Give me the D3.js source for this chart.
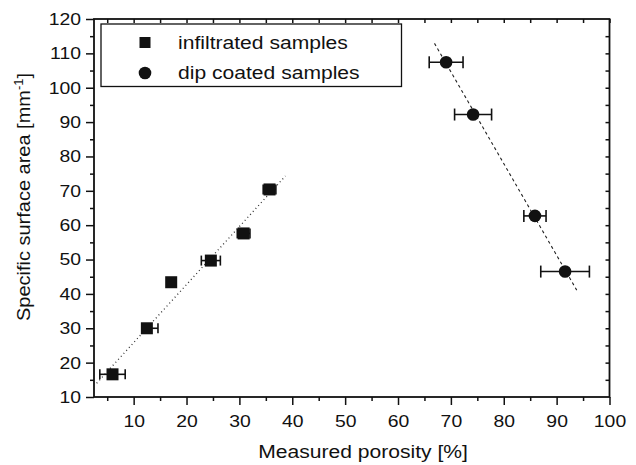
<!DOCTYPE html>
<html>
<head>
<meta charset="utf-8">
<script src="https://cdn.jsdelivr.net/npm/d3@7"></script>
<style>
  body { margin: 0; background: #fff; }
  svg { display: block; font-family: "Liberation Sans", Arial, sans-serif; }
</style>
</head>
<body>
<svg id="chart" width="636" height="465"></svg>
<script>
// infiltrated samples (squares)
const infX = [6.0, 12.5, 17.1, 24.6, 30.8, 35.7];
const infY = [16.6, 30.0, 43.4, 49.7, 57.6, 70.4];
const infErrLo = [2.4, 0.9, 0.8, 1.8, 1.2, 1.2];
const infErrHi = [2.4, 2.1, 0.8, 1.8, 1.2, 1.2];

// dip coated samples (circles)
const dipX = [69.1, 74.2, 85.9, 91.6];
const dipY = [107.4, 92.2, 62.7, 46.5];
const dipErr = [3.2, 3.5, 2.1, 4.6];

// linear fit lines (end points)
const infFitX = [3.0, 38.7];
const infFitY = [14.0, 74.3];
const dipFitX = [66.9, 93.8];
const dipFitY = [112.9, 41.1];

const xTicks = [10, 20, 30, 40, 50, 60, 70, 80, 90, 100];
const yTicks = [10, 20, 30, 40, 50, 60, 70, 80, 90, 100, 110, 120];
const legendLabels = ["infiltrated samples", "dip coated samples"];

const xTitle = "Measured porosity [%]";
const yTitle = "Specific surface area [mm";

const pLeft = 94, pRight = 609.5, pTop = 19, pBottom = 397;
const stretch = 1.14;   // the original font is a bit wider than Arial

const svg = d3.select("#chart");

const xScale = d3.scaleLinear().domain([2.5, 100]).range([pLeft, pRight]);
const yScale = d3.scaleLinear().domain([10, 120]).range([pBottom, pTop]);

// widen text around its anchor point
function widen(sel) {
    sel.each(function () {
        const t = d3.select(this);
        const x = +t.attr("x") || 0;
        const y = +t.attr("y") || 0;
        t.attr("x", 0).attr("y", 0)
         .attr("transform", `translate(${x},${y}) scale(${stretch},1)`);
    });
}

function styleAxis(g) {
    g.select(".domain").remove();
    g.selectAll("line").attr("stroke", "#111").attr("stroke-width", 1.5);
    g.selectAll("text").attr("fill", "#111").style("font-size", "17px");
}

const minorX = d3.range(5, 100, 10);
const minorY = d3.range(15, 120, 10);
const allX = d3.range(5, 101, 5);
const allY = d3.range(15, 120, 5);

// bottom: major + minor outward
svg.append("g").attr("transform", `translate(0,${pBottom})`)
    .call(d3.axisBottom(xScale).tickValues(xTicks).tickSize(8).tickPadding(10).tickFormat(d3.format("d")))
    .call(styleAxis)
    .call(g => widen(g.selectAll("text")));
svg.append("g").attr("transform", `translate(0,${pBottom})`)
    .call(d3.axisBottom(xScale).tickValues(minorX).tickSize(4).tickFormat(""))
    .call(styleAxis);

// left: major + minor outward
svg.append("g").attr("transform", `translate(${pLeft},0)`)
    .call(d3.axisLeft(yScale).tickValues(yTicks).tickSize(8).tickPadding(5).tickFormat(d3.format("d")))
    .call(styleAxis)
    .call(g => widen(g.selectAll("text")));
svg.append("g").attr("transform", `translate(${pLeft},0)`)
    .call(d3.axisLeft(yScale).tickValues(minorY).tickSize(4).tickFormat(""))
    .call(styleAxis);

// top and right: small inward ticks
svg.append("g").attr("transform", `translate(0,${pTop})`)
    .call(d3.axisBottom(xScale).tickValues(allX).tickSize(4).tickFormat(""))
    .call(styleAxis);
svg.append("g").attr("transform", `translate(${pRight},0)`)
    .call(d3.axisLeft(yScale).tickValues(allY).tickSize(4).tickFormat(""))
    .call(styleAxis);

// frame
svg.append("rect")
    .attr("x", pLeft).attr("y", pTop)
    .attr("width", pRight - pLeft).attr("height", pBottom - pTop)
    .attr("fill", "none").attr("stroke", "#111").attr("stroke-width", 1.8);

// fit lines
const line = d3.line().x(d => xScale(d[0])).y(d => yScale(d[1]));
svg.append("path")
    .attr("d", line(d3.zip(infFitX, infFitY)))
    .attr("fill", "none").attr("stroke", "#333").attr("stroke-width", 1.3)
    .attr("stroke-dasharray", "1,3");
svg.append("path")
    .attr("d", line(d3.zip(dipFitX, dipFitY)))
    .attr("fill", "none").attr("stroke", "#222").attr("stroke-width", 1.1)
    .attr("stroke-dasharray", "3,3");

// horizontal error bars
function errorBars(X, Y, lo, hi, cap) {
    const g = svg.append("g").attr("stroke", "#111").attr("stroke-width", 1.6);
    X.forEach((x, i) => {
        const y = yScale(Y[i]);
        const x0 = xScale(x - lo[i]), x1 = xScale(x + hi[i]);
        g.append("line").attr("x1", x0).attr("x2", x1).attr("y1", y).attr("y2", y);
        g.append("line").attr("x1", x0).attr("x2", x0).attr("y1", y - cap).attr("y2", y + cap);
        g.append("line").attr("x1", x1).attr("x2", x1).attr("y1", y - cap).attr("y2", y + cap);
    });
}
errorBars(infX, infY, infErrLo, infErrHi, 5);
errorBars(dipX, dipY, dipErr, dipErr, 6);

const sq = 12;
svg.append("g").selectAll("rect")
    .data(d3.zip(infX, infY))
    .join("rect")
    .attr("x", d => xScale(d[0]) - sq / 2)
    .attr("y", d => yScale(d[1]) - sq / 2)
    .attr("width", sq).attr("height", sq)
    .attr("fill", "#111");

svg.append("g").selectAll("circle")
    .data(d3.zip(dipX, dipY))
    .join("circle")
    .attr("cx", d => xScale(d[0]))
    .attr("cy", d => yScale(d[1]))
    .attr("r", 6.3)
    .attr("fill", "#111");

// axis titles
svg.append("text")
    .attr("transform", `translate(363,458) scale(${stretch},1)`)
    .attr("text-anchor", "middle")
    .style("font-size", "18.5px")
    .attr("fill", "#111")
    .text(xTitle);

const yt = svg.append("text")
    .attr("transform", `translate(30,197) rotate(-90) scale(1.08,1)`)
    .attr("text-anchor", "middle")
    .style("font-size", "18.5px")
    .attr("fill", "#111");
yt.append("tspan").text(yTitle);
yt.append("tspan").attr("dy", -7).style("font-size", "12px").text("-1");
yt.append("tspan").attr("dy", 7).text("]");

// legend
const legend = svg.append("g");
legend.append("rect")
    .attr("x", 101).attr("y", 24).attr("width", 300.5).attr("height", 62.5)
    .attr("fill", "#fff").attr("stroke", "#111").attr("stroke-width", 1.3);
legend.append("rect")
    .attr("x", 145 - 5.5).attr("y", 42.5 - 5.5).attr("width", 11).attr("height", 11)
    .attr("fill", "#111");
legend.append("circle")
    .attr("cx", 145).attr("cy", 73).attr("r", 6.3)
    .attr("fill", "#111");
legend.selectAll(".legend")
    .data(legendLabels)
    .join("text")
    .attr("class", "legend")
    .attr("transform", (d, i) => `translate(178,${48.5 + i * 30}) scale(${stretch},1)`)
    .style("font-size", "18.5px")
    .attr("fill", "#111")
    .text(d => d);
</script>
</body>
</html>
